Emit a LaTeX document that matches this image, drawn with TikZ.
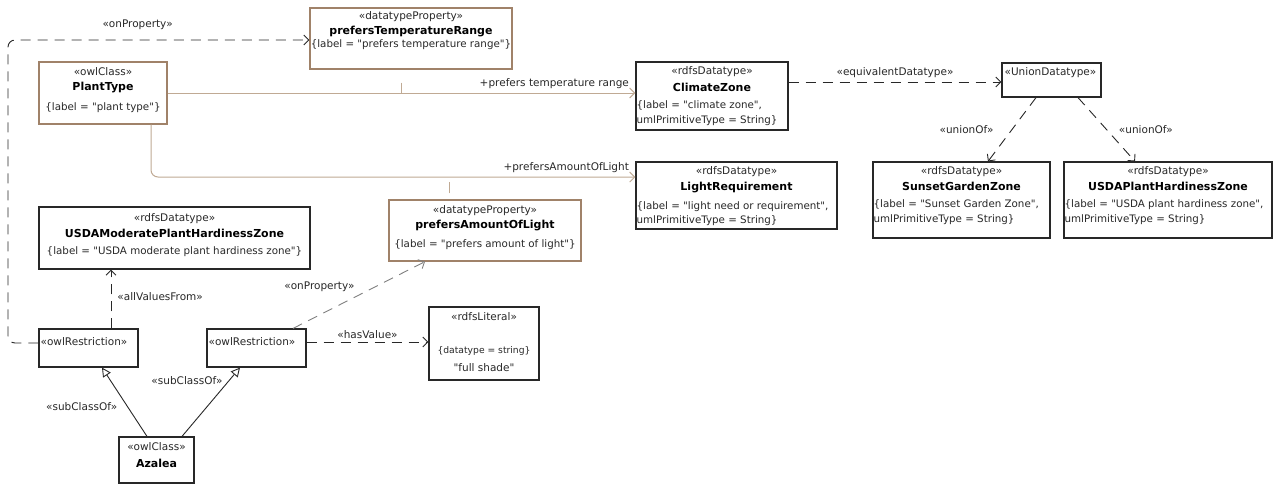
\documentclass[tikz,border=0pt]{standalone}
\usepackage{fontspec}
\setmainfont{DejaVu Sans}[Ligatures=TeXOff]
\usetikzlibrary{arrows.meta}
\definecolor{tanbox}{RGB}{160,130,105}
\definecolor{tanline}{RGB}{192,170,148}
\definecolor{ink}{RGB}{40,40,40}
\begin{document}
\begin{tikzpicture}[x=1pt,y=-1pt,
 bbox/.style={draw=ink, line width=1.2pt, inner sep=0pt, rectangle},
 tbox/.style={draw=tanbox, line width=1.2pt, inner sep=0pt, rectangle},
 st/.style={inner sep=0pt, font=\fontsize{10.5}{12}\selectfont, text=ink},
 nm/.style={inner sep=0pt, font=\fontsize{11}{13}\selectfont\bfseries, text=black},
 lb/.style={inner sep=0pt, font=\fontsize{10.3}{12}\selectfont, text=ink},
 sm/.style={inner sep=0pt, font=\fontsize{9.2}{11}\selectfont, text=ink},
 cl/.style={inner sep=0pt, font=\fontsize{10.5}{12}\selectfont, text=ink},
 dep/.style={draw=ink, line width=0.9pt, dash pattern=on 10pt off 7pt, -{Straight Barb[length=5pt,width=10pt]}},
 assoc/.style={draw=tanline, line width=1pt},
 assocarr/.style={assoc, -{Straight Barb[length=5pt,width=10pt]}},
 gen/.style={draw=ink, line width=0.9pt, -{Triangle[open,length=9pt,width=9pt,fill=white]}},
]
\useasboundingbox (0,0) rectangle (1273,485);
\fill[white] (0,0) rectangle (1273,485);

% ---------- boxes ----------
\node[tbox, minimum width=202pt, minimum height=61pt] (ptr) at (411,38.5) {};
\node[st] (ptr1) at ([yshift=-9.5pt]ptr.north) {«datatypeProperty»};
\node[nm] (ptr2) at ([yshift=-24pt]ptr.north) {prefersTemperatureRange};
\node[lb] (ptr3) at ([yshift=-37pt]ptr.north) {\{label = "prefers temperature range"\}};

\node[tbox, minimum width=128pt, minimum height=62pt] (pt) at (103,93) {};
\node[st] (pt1) at ([yshift=-10pt]pt.north) {«owlClass»};
\node[nm] (pt2) at ([yshift=-26pt]pt.north) {PlantType};
\node[lb] (pt3) at ([yshift=-46.5pt]pt.north) {\{label = "plant type"\}};

\node[bbox, minimum width=152pt, minimum height=68pt] (cz) at (712,96) {};
\node[st] (cz1) at ([yshift=-10.5pt]cz.north) {«rdfsDatatype»};
\node[nm] (cz2) at ([yshift=-26pt]cz.north) {ClimateZone};
\node[lb, anchor=west] (cz3) at ([xshift=1pt,yshift=-44.5pt]cz.north west) {\{label = "climate zone",};
\node[lb, anchor=west] (cz4) at ([xshift=1pt,yshift=-59pt]cz.north west) {umlPrimitiveType = String\}};

\node[bbox, minimum width=99pt, minimum height=34pt] (ud) at (1051.5,80) {};
\node[st, anchor=west] (ud1) at ([xshift=3pt,yshift=-10pt]ud.north west) {«UnionDatatype»};

\node[bbox, minimum width=177pt, minimum height=76pt] (sgz) at (961.5,200) {};
\node[st] (sgz1) at ([yshift=-10.5pt]sgz.north) {«rdfsDatatype»};
\node[nm] (sgz2) at ([yshift=-25pt]sgz.north) {SunsetGardenZone};
\node[lb, anchor=west] (sgz3) at ([xshift=1pt,yshift=-43.5pt]sgz.north west) {\{label = "Sunset Garden Zone",};
\node[lb, anchor=west] (sgz4) at ([xshift=1pt,yshift=-58pt]sgz.north west) {umlPrimitiveType = String\}};

\node[bbox, minimum width=208pt, minimum height=76pt] (uphz) at (1168,200) {};
\node[st] (uphz1) at ([yshift=-10.5pt]uphz.north) {«rdfsDatatype»};
\node[nm] (uphz2) at ([yshift=-25pt]uphz.north) {USDAPlantHardinessZone};
\node[lb, anchor=west] (uphz3) at ([xshift=1pt,yshift=-43.5pt]uphz.north west) {\{label = "USDA plant hardiness zone",};
\node[lb, anchor=west] (uphz4) at ([xshift=1pt,yshift=-58pt]uphz.north west) {umlPrimitiveType = String\}};

\node[bbox, minimum width=201pt, minimum height=67pt] (lr) at (736.5,195.5) {};
\node[st] (lr1) at ([yshift=-10.5pt]lr.north) {«rdfsDatatype»};
\node[nm] (lr2) at ([yshift=-26pt]lr.north) {LightRequirement};
\node[lb, anchor=west] (lr3) at ([xshift=1pt,yshift=-45pt]lr.north west) {\{label = "light need or requirement",};
\node[lb, anchor=west] (lr4) at ([xshift=1pt,yshift=-59pt]lr.north west) {umlPrimitiveType = String\}};

\node[tbox, minimum width=192pt, minimum height=61pt] (pal) at (485,230.5) {};
\node[st] (pal1) at ([yshift=-11pt]pal.north) {«datatypeProperty»};
\node[nm] (pal2) at ([yshift=-26.5pt]pal.north) {prefersAmountOfLight};
\node[lb] (pal3) at ([yshift=-45pt]pal.north) {\{label = "prefers amount of light"\}};

\node[bbox, minimum width=271pt, minimum height=62pt] (umz) at (174.5,238) {};
\node[st] (umz1) at ([yshift=-12pt]umz.north) {«rdfsDatatype»};
\node[nm] (umz2) at ([yshift=-27pt]umz.north) {USDAModeratePlantHardinessZone};
\node[lb] (umz3) at ([yshift=-45pt]umz.north) {\{label = "USDA moderate plant hardiness zone"\}};

\node[bbox, minimum width=99pt, minimum height=38pt] (ra) at (88.5,348) {};
\node[st, anchor=west] (ra1) at ([xshift=2pt,yshift=-13pt]ra.north west) {«owlRestriction»};

\node[bbox, minimum width=99pt, minimum height=38pt] (rb) at (256.5,348) {};
\node[st, anchor=west] (rb1) at ([xshift=2pt,yshift=-13pt]rb.north west) {«owlRestriction»};

\node[bbox, minimum width=110pt, minimum height=73pt] (lit) at (484,343.5) {};
\node[st] (lit1) at ([yshift=-10pt]lit.north) {«rdfsLiteral»};
\node[sm] (lit2) at ([yshift=-45pt]lit.north) {\{datatype = string\}};
\node[cl] (lit3) at ([yshift=-61pt]lit.north) {"full shade"};

\node[bbox, minimum width=75pt, minimum height=46pt] (az) at (156.5,460) {};
\node[st] (az1) at ([yshift=-10pt]az.north) {«owlClass»};
\node[nm] (az2) at ([yshift=-27pt]az.north) {Azalea};

% ---------- associations ----------
\draw[assocarr] (pt.east) -- (pt.east -| cz.west)
  node[cl, anchor=south east, xshift=-6pt, yshift=4pt] (l1) {+prefers temperature range};
\draw[assocarr, rounded corners=7pt] ([xshift=48pt]pt.south) |- ([yshift=18.5pt]lr.west)
  node[cl, anchor=south east, xshift=-6pt, yshift=3.5pt] (l2) {+prefersAmountOfLight};
\draw[assoc, dash pattern=on 0pt off 13pt on 10pt off 20pt] ([xshift=-10pt]ptr.south) -- ++(0,23.5);
\draw[assoc, dash pattern=on 0pt off 6pt on 11pt off 20pt] ([xshift=-36pt]pal.north) -- ++(0,-23);

% ---------- dependencies ----------
\draw[dep] ([yshift=14pt]cz.east) -- ([yshift=14pt]cz.east -| ud.west)
  node[cl, midway, anchor=south, yshift=4pt] (l3) {«equivalentDatatype»};
\draw[dep] ([xshift=-15.5pt]ud.south) -- ([xshift=26.5pt]sgz.north)
  node[cl, midway, anchor=east, xshift=-18pt] (l4) {«unionOf»};
\draw[dep] ([xshift=26.5pt]ud.south) -- ([xshift=-33pt]uphz.north)
  node[cl, midway, anchor=west, xshift=12pt] (l5) {«unionOf»};

\draw[dep] ([xshift=22.5pt]ra.north) -- ([xshift=22.5pt]ra.north |- umz.south)
  node[cl, midway, anchor=west, xshift=6pt, yshift=2pt] (l6) {«allValuesFrom»};

\coordinate (cnr) at (8,40);
\draw[dep, rounded corners=7pt] ([yshift=5pt]ra.west) -| (cnr) -- (cnr -| ptr.west)
  node[cl, pos=0.43, anchor=south, yshift=10pt] (l7) {«onProperty»};

\draw[dep, draw=black!50] ([xshift=36.5pt]rb.north) -- ([xshift=-60pt]pal.south)
  node[cl, midway, anchor=south east, xshift=-4pt, yshift=3pt] (l8) {«onProperty»};

\draw[dep] ([yshift=6pt]rb.east) -- ([yshift=6pt]rb.east -| lit.west)
  node[cl, midway, anchor=south, yshift=3pt] (l9) {«hasValue»};

% ---------- generalizations ----------
\draw[gen] ([xshift=-9.5pt]az.north) -- ([xshift=13.5pt]ra.south)
  node[cl, pos=0.43, anchor=east, xshift=-10pt] (l10) {«subClassOf»};
\draw[gen] ([xshift=25.5pt]az.north) -- ([xshift=-16.5pt]rb.south)
  node[cl, pos=0.81, anchor=east, xshift=-6pt] (l11) {«subClassOf»};
\end{tikzpicture}
\end{document}
